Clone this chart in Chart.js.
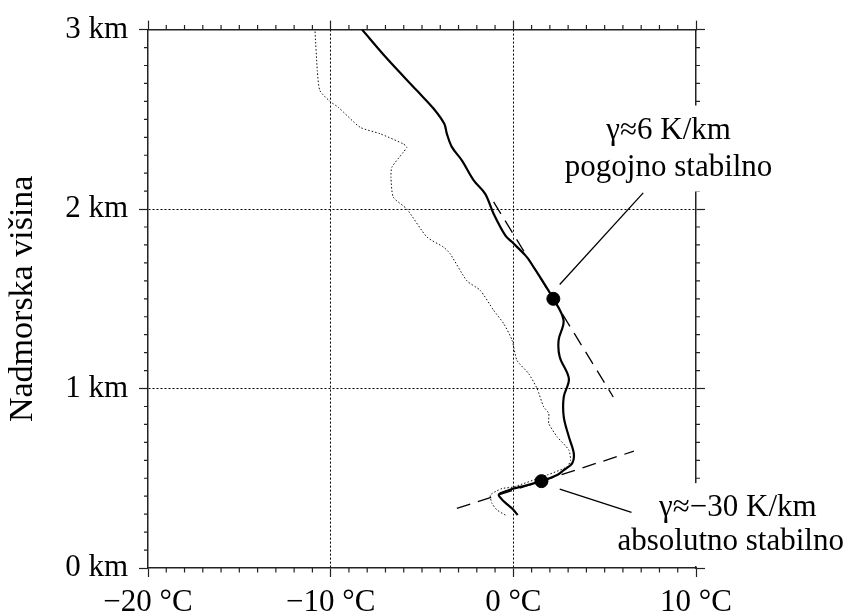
<!DOCTYPE html>
<html>
<head>
<meta charset="utf-8">
<script src="https://cdn.jsdelivr.net/npm/chart.js@4.4.1/dist/chart.umd.min.js"></script>
<style>
  html, body { margin: 0; padding: 0; background: #fff; }
  canvas { display: block; }
</style>
</head>
<body>
<canvas id="c" width="861" height="616"></canvas>
<script>
// ---- Data ----
// Temperature profile (solid): height in km, temperature in °C
const tempHeight = [0.295, 0.330, 0.356, 0.385, 0.406, 0.416, 0.430, 0.443, 0.452, 0.484, 0.518, 0.545, 0.583, 0.638, 0.731, 0.842, 0.953, 1.055, 1.176, 1.270, 1.380, 1.500, 1.705, 1.742, 1.816, 1.853, 1.974, 2.085, 2.160, 2.270, 2.345, 2.420, 2.475, 2.560, 2.660, 2.840, 3.000];
const tempValues = [0.24, -0.05, -0.35, -0.65, -0.80, -0.71, -0.35, 0.02, 0.38, 1.54, 2.40, 2.76, 3.22, 3.31, 3.04, 2.76, 2.76, 3.04, 2.54, 2.48, 2.75, 2.19, 0.93, 0.66, -0.07, -0.44, -1.08, -1.54, -2.17, -2.81, -3.36, -3.64, -3.78, -4.37, -5.28, -6.93, -8.28];

// Dew point profile (dotted)
const dewHeight = [0.295, 0.323, 0.360, 0.406, 0.430, 0.443, 0.452, 0.518, 0.564, 0.600, 0.657, 0.731, 0.805, 0.861, 0.898, 1.000, 1.083, 1.157, 1.270, 1.362, 1.436, 1.547, 1.600, 1.751, 1.788, 1.844, 2.000, 2.066, 2.178, 2.233, 2.317, 2.345, 2.363, 2.420, 2.456, 2.567, 2.600, 2.660, 2.770, 3.000];
const dewValues = [-0.44, -0.89, -1.17, -1.26, -0.90, -0.62, 0.02, 1.85, 2.94, 3.13, 3.04, 2.40, 1.94, 1.94, 1.66, 1.30, 0.84, 0.20, -0.07, -0.53, -1.08, -1.81, -2.54, -3.46, -3.82, -4.73, -5.83, -6.57, -6.70, -6.65, -6.02, -5.83, -6.02, -7.30, -8.39, -9.58, -10.04, -10.59, -10.73, -10.86];

// Lapse-rate reference lines (dashed)
const upperLapseHeight = [2.04, 0.953];
const upperLapseTemp = [-1.08, 5.47];
const lowerLapseHeight = [0.332, 0.651];
const lowerLapseTemp = [-3.09, 6.60];

// Marked points
const markerHeight = [1.50, 0.484];
const markerTemp = [2.19, 1.54];

// Annotation leader lines
const leaderUpperHeight = [1.58, 2.09];
const leaderUpperTemp = [2.54, 7.11];
const leaderLowerHeight = [0.44, 0.31];
const leaderLowerTemp = [2.54, 6.47];

// Axes
const xTicks = [-20, -10, 0, 10];
const xTickLabels = ['\u221220 \u00B0C', '\u221210 \u00B0C', '0 \u00B0C', '10 \u00B0C'];
const yTicks = [0, 1, 2, 3];
const yTickLabels = ['0 km', '1 km', '2 km', '3 km'];
const yTitle = 'Nadmorska vi\u0161ina';

const upperNote = ['\u03B3\u22486 K/km', 'pogojno stabilno'];
const lowerNote = ['\u03B3\u2248\u221230 K/km', 'absolutno stabilno'];

// ---- Helpers ----
const pts = (h, t) => h.map((v, i) => ({ x: t[i], y: v }));
const FONT = "'Liberation Serif', 'Times New Roman', serif";
const AXIS = '#222';

const minorTicks = {
  id: 'minorTicks',
  beforeDatasetsDraw(chart) {
    const { ctx, chartArea: { left, right, top, bottom }, scales: { x, y } } = chart;
    ctx.save();
    ctx.strokeStyle = AXIS;
    ctx.lineWidth = 1.2;
    ctx.beginPath();
    for (let v = x.min + 1; v < x.max; v++) {
      if (Math.abs(v % 10) < 1e-9) continue;
      const px = x.getPixelForValue(v);
      ctx.moveTo(px, bottom); ctx.lineTo(px, bottom + 4.5);
      ctx.moveTo(px, top); ctx.lineTo(px, top - 4.5);
    }
    for (let i = 1; i < 30; i++) {
      if (i % 10 === 0) continue;
      const py = y.getPixelForValue(i / 10);
      ctx.moveTo(left, py); ctx.lineTo(left - 4, py);
      ctx.moveTo(right, py); ctx.lineTo(right + 4, py);
    }
    ctx.stroke();
    ctx.restore();
  }
};

const notes = {
  id: 'notes',
  afterDatasetsDraw(chart) {
    const { ctx, scales: { x, y } } = chart;
    const blocks = [
      { lines: upperNote, cx: 8.5, base: [2.393, 2.187] },
      { lines: lowerNote, cx: [12.29, 11.9], base: [0.289, 0.100] }
    ];
    ctx.save();
    ctx.font = '31px ' + FONT;
    ctx.textAlign = 'center';
    ctx.textBaseline = 'alphabetic';
    blocks.forEach(b => {
      b.lines.forEach((txt, i) => {
        const cxv = Array.isArray(b.cx) ? b.cx[i] : b.cx;
        const px = x.getPixelForValue(cxv);
        const py = y.getPixelForValue(b.base[i]);
        const w = ctx.measureText(txt).width;
        ctx.fillStyle = '#fff';
        ctx.fillRect(px - w / 2 - 8, py - 33, w + 16, 49);
      });
      b.lines.forEach((txt, i) => {
        const cxv = Array.isArray(b.cx) ? b.cx[i] : b.cx;
        const px = x.getPixelForValue(cxv);
        const py = y.getPixelForValue(b.base[i]);
        ctx.fillStyle = '#000';
        ctx.fillText(txt, px, py);
      });
    });
    ctx.restore();
  }
};

const interior = (lo, hi) => (c) => (c.tick && c.tick.value > lo && c.tick.value < hi) ? '#000' : 'rgba(0,0,0,0)';

const lineDs = (data, opts) => Object.assign({
  data, showLine: true, pointRadius: 0, borderColor: '#000', backgroundColor: '#000', fill: false
}, opts);

new Chart(document.getElementById('c'), {
  type: 'scatter',
  data: {
    datasets: [
      { data: pts(markerHeight, markerTemp), pointRadius: 6.5, pointBackgroundColor: '#000', pointBorderColor: '#000', showLine: false },
      lineDs(pts(leaderUpperHeight, leaderUpperTemp), { borderWidth: 1.3 }),
      lineDs(pts(leaderLowerHeight, leaderLowerTemp), { borderWidth: 1.3 }),
      lineDs(pts(tempHeight, tempValues), { borderWidth: 2.2, tension: 0.35 }),
      lineDs(pts(upperLapseHeight, upperLapseTemp), { borderWidth: 1.3, borderDash: [14, 8] }),
      lineDs(pts(lowerLapseHeight, lowerLapseTemp), { borderWidth: 1.3, borderDash: [14, 8] }),
      lineDs(pts(dewHeight, dewValues), { borderWidth: 1, borderDash: [1.5, 2], tension: 0.2, borderColor: '#111' })
    ]
  },
  options: {
    responsive: false,
    animation: false,
    layout: { padding: 0 },
    plugins: { legend: { display: false }, tooltip: { enabled: false } },
    scales: {
      x: {
        type: 'linear', position: 'bottom', min: -20, max: 10,
        afterBuildTicks: s => { s.ticks = xTicks.map(v => ({ value: v })); },
        ticks: {
          callback: (v) => xTickLabels[xTicks.indexOf(v)],
          font: { family: FONT, size: 31 }, color: '#000', padding: 7, maxRotation: 0, autoSkip: false
        },
        grid: { color: interior(-20, 10), lineWidth: 1, tickColor: AXIS, tickLength: 9, tickWidth: 1.2, tickBorderDash: [] },
        border: { display: true, color: AXIS, width: 1.5, dash: [2, 2] },
        afterFit: s => { s.height = 48; }
      },
      x2: {
        type: 'linear', position: 'top', min: -20, max: 10,
        afterBuildTicks: s => { s.ticks = xTicks.map(v => ({ value: v })); },
        ticks: { display: false },
        grid: { drawOnChartArea: false, tickColor: AXIS, tickLength: 9, tickWidth: 1.2 },
        border: { display: true, color: AXIS, width: 1.5 },
        afterFit: s => { s.height = 29; }
      },
      y: {
        type: 'linear', position: 'left', min: 0, max: 3,
        afterBuildTicks: s => { s.ticks = yTicks.map(v => ({ value: v })); },
        ticks: {
          callback: (v) => yTickLabels[yTicks.indexOf(v)],
          font: { family: FONT, size: 31 }, color: '#000', padding: 11, autoSkip: false
        },
        title: { display: true, text: yTitle, font: { family: FONT, size: 34 }, color: '#000', padding: { top: 3, bottom: 0 } },
        grid: { color: interior(0, 3), lineWidth: 1, tickColor: AXIS, tickLength: 9, tickWidth: 1.2, tickBorderDash: [] },
        border: { display: true, color: AXIS, width: 1.5, dash: [2, 2] },
        afterFit: s => { s.width = 148; }
      },
      y2: {
        type: 'linear', position: 'right', min: 0, max: 3,
        afterBuildTicks: s => { s.ticks = yTicks.map(v => ({ value: v })); },
        ticks: { display: false },
        grid: { drawOnChartArea: false, tickColor: AXIS, tickLength: 9, tickWidth: 1.2 },
        border: { display: true, color: AXIS, width: 1.5 },
        afterFit: s => { s.width = 165; }
      }
    }
  },
  plugins: [minorTicks, notes]
});
</script>
</body>
</html>
